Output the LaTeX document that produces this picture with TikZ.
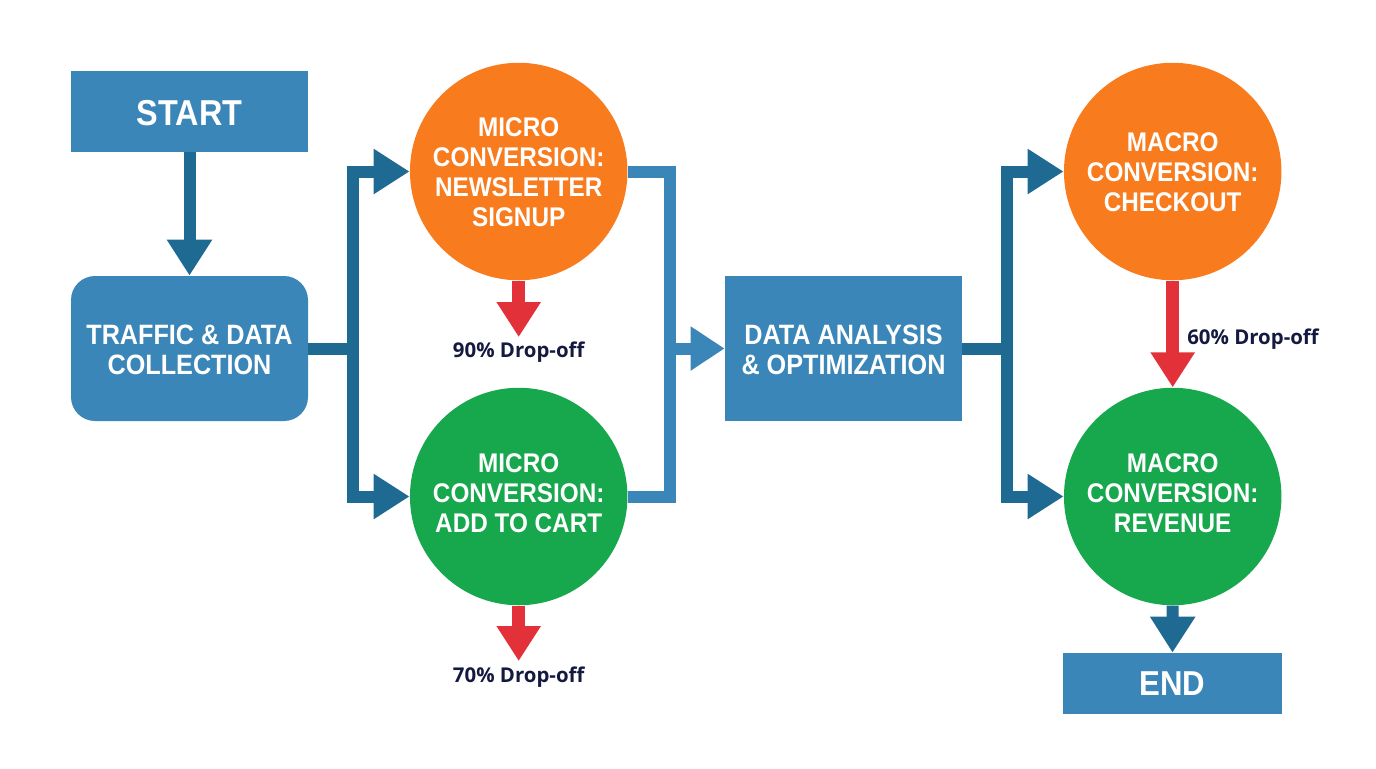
\documentclass[tikz,border=0pt]{standalone}
\usepackage{fontspec}
\setmainfont{Liberation Sans}
\newfontfamily\whitefont[FakeStretch=0.9]{Liberation Sans}
\newfontfamily\droplabel{Open Sans}
\usetikzlibrary{arrows.meta}
\definecolor{boxblue}{HTML}{3A86B8}
\definecolor{darkblue}{HTML}{1F6A92}
\definecolor{orangefill}{HTML}{F87B1E}
\definecolor{greenfill}{HTML}{17A84E}
\definecolor{redarrow}{HTML}{E23138}
\definecolor{navytext}{HTML}{14193F}
\tikzset{
  x=0.5pt,y=-0.5pt,
  whitetext/.style={text=white,font=\whitefont\fontsize{13.5}{15}\selectfont\bfseries,align=center,inner sep=0pt},
  boxtext/.style={whitetext,font=\whitefont\fontsize{14}{15}\selectfont\bfseries},
  bigtext/.style={whitetext,font=\whitefont\fontsize{18}{18}\selectfont\bfseries},
  endtext/.style={whitetext,font=\whitefont\fontsize{17.3}{18}\selectfont\bfseries},
  boxnode/.style={fill=boxblue,inner sep=0pt},
  circnode/.style={circle,minimum size=108.75pt,inner sep=0pt},
  darrow/.style={draw=darkblue,line width=6pt,-{Triangle[length=18pt,width=21.5pt]}},
  larrow/.style={draw=boxblue,line width=6pt,-{Triangle[length=17pt,width=21pt]}},
  rarrow/.style={draw=redarrow,line width=6.5pt,-{Triangle[length=17.5pt,width=21pt]}},
  droptext/.style={text=navytext,font=\droplabel\fontsize{10.2}{12}\selectfont\bfseries,inner sep=0pt},
}
\begin{document}
\begin{tikzpicture}
\useasboundingbox (0,0) rectangle (1376,768);
% shapes
\node[boxnode,minimum width=118.5pt,minimum height=40.5pt] (start) at (189.5,111.5) {};
\node[boxnode,rounded corners=12pt,minimum width=118.5pt,minimum height=72.5pt] (traffic) at (189.5,348.5) {};
\node[circnode,fill=orangefill] (c1) at (518.7,171.5) {};
\node[circnode,fill=greenfill] (c2) at (518.7,496.5) {};
\node[boxnode,minimum width=118.5pt,minimum height=72.5pt] (data) at (843.5,348.5) {};
\node[circnode,fill=orangefill] (c3) at (1172.7,171.5) {};
\node[circnode,fill=greenfill] (c4) at (1172.7,496.5) {};
\node[boxnode,minimum width=109.5pt,minimum height=30.5pt] (end) at (1172.5,683.5) {};
% texts
\node[bigtext] (tstart) at (189.5,113) {START};
\node[boxtext] (ttraffic) at (189.5,350) {TRAFFIC \& DATA\\COLLECTION};
\node[whitetext] (tc1) at (518.7,172) {MICRO\\CONVERSION:\\NEWSLETTER\\SIGNUP};
\node[whitetext] (tc2) at (518.7,493) {MICRO\\CONVERSION:\\ADD TO CART};
\node[boxtext] (tdata) at (843.5,350) {DATA ANALYSIS\\\& OPTIMIZATION};
\node[whitetext] (tc3) at (1172.7,172) {MACRO\\CONVERSION:\\CHECKOUT};
\node[whitetext] (tc4) at (1172.7,493) {MACRO\\CONVERSION:\\REVENUE};
\node[endtext] (tend) at (1172.5,684) {END};
\node[droptext] (d1) at (518.7,352.5) {90\% Drop-off};
\node[droptext] (d2) at (518.7,677) {70\% Drop-off};
\node[droptext] (d3) at (1253,339) {60\% Drop-off};
% free ends and junctions
\coordinate (j1) at (353,348.5);
\coordinate (j2) at (670,348.5);
\coordinate (j3) at (1007,348.5);
\coordinate (t1) at (518.7,337);
\coordinate (t2) at (518.7,661);
% connectors
\draw[darrow] (start.south) -- (traffic.north);
\draw[draw=darkblue,line width=6pt] (traffic.east) -- (j1);
\draw[darrow] (j1) |- (c1.west);
\draw[darrow] (j1) |- (c2.west);
\draw[draw=boxblue,line width=6pt] (c1.east) -| (j2) |- (c2.east);
\draw[larrow] (j2) -- (data.west);
\draw[draw=darkblue,line width=6pt] (data.east) -- (j3);
\draw[darrow] (j3) |- (c3.west);
\draw[darrow] (j3) |- (c4.west);
\draw[rarrow] (c1.south) -- (t1);
\draw[rarrow] (c2.south) -- (t2);
\draw[rarrow] (c3.south) -- (c4.north);
\draw[darrow] (c4.south) -- (end.north);
\end{tikzpicture}
\end{document}
